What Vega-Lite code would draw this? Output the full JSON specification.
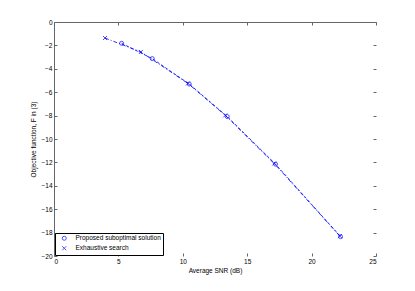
{
  "$schema": "https://vega.github.io/schema/vega-lite/v6.json",
  "autosize": "none",
  "width": 322,
  "height": 234,
  "padding": {"left": 54, "top": 22, "right": 39, "bottom": 35},
  "background": "white",
  "config": {
    "view": {"stroke": null},
    "font": "Liberation Sans",
    "axis": {"labelFont": "Liberation Sans", "titleFont": "Liberation Sans", "labelFontSize": 6.5, "titleFontSize": 6.5, "titleFontWeight": "normal", "labelColor": "#000", "titleColor": "#000", "domainColor": "#666", "tickColor": "#666", "grid": false}
  },
  "data": {"values": [
    {"snr": 5.25, "F": -1.82, "series": "Proposed suboptimal solution"},
    {"snr": 7.63, "F": -3.13, "series": "Proposed suboptimal solution"},
    {"snr": 10.5, "F": -5.3, "series": "Proposed suboptimal solution"},
    {"snr": 13.45, "F": -8.08, "series": "Proposed suboptimal solution"},
    {"snr": 17.2, "F": -12.15, "series": "Proposed suboptimal solution"},
    {"snr": 22.25, "F": -18.35, "series": "Proposed suboptimal solution"},
    {"snr": 3.96, "F": -1.37, "series": "Exhaustive search"},
    {"snr": 6.75, "F": -2.56, "series": "Exhaustive search"},
    {"snr": 10.4, "F": -5.25, "series": "Exhaustive search"},
    {"snr": 13.3, "F": -7.98, "series": "Exhaustive search"},
    {"snr": 17.1, "F": -12.1, "series": "Exhaustive search"},
    {"snr": 22.2, "F": -18.3, "series": "Exhaustive search"}
  ]},
  "resolve": {"axis": {"x": "independent", "y": "independent"}},
  "layer": [
    {
      "encoding": {
        "x": {"field": "snr", "type": "quantitative", "scale": {"domain": [0, 25], "nice": false},
          "axis": {"title": "Average SNR (dB)", "values": [0, 5, 10, 15, 20, 25], "domain": false, "tickSize": -3, "labelPadding": 5, "titlePadding": 3}},
        "y": {"field": "F", "type": "quantitative", "scale": {"domain": [-20, 0], "nice": false},
          "axis": {"title": "Objective function, F in (3)", "values": [0, -2, -4, -6, -8, -10, -12, -14, -16, -18, -20], "tickSize": -3, "labelPadding": 5, "titlePadding": 4}}
      },
      "layer": [
        {
          "transform": [{"filter": "datum.series === 'Proposed suboptimal solution'"}],
          "mark": {"type": "line", "color": "blue", "strokeWidth": 0.8, "strokeDash": [3, 2]},
          "encoding": {}
        },
        {
          "transform": [{"filter": "datum.series === 'Exhaustive search'"}],
          "mark": {"type": "line", "color": "blue", "strokeWidth": 0.8, "strokeDash": [4, 2, 1, 2]},
          "encoding": {}
        },
        {
          "mark": {"type": "point", "color": "blue", "filled": false, "size": 16, "strokeWidth": 1},
          "encoding": {
            "shape": {"field": "series", "type": "nominal", "sort": ["Proposed suboptimal solution", "Exhaustive search"],
              "scale": {"domain": ["Proposed suboptimal solution", "Exhaustive search"], "range": ["circle", "M-1,-1L1,1M-1,1L1,-1"]},
              "legend": {"title": null, "orient": "bottom-left", "offset": 1, "strokeColor": "#000", "fillColor": "white", "padding": 2, "labelFontSize": 6.5, "labelFont": "Liberation Sans", "labelColor": "#000", "symbolSize": 16, "symbolStrokeColor": "blue", "symbolFillColor": "transparent", "symbolStrokeWidth": 1, "symbolOffset": 4, "labelOffset": 8, "rowPadding": 1, "labelLimit": 200}}
          }
        }
      ]
    },
    {
      "mark": {"type": "point", "opacity": 0},
      "encoding": {
        "x": {"field": "snr", "type": "quantitative", "axis": {"orient": "top", "title": null, "labels": false, "values": [0, 5, 10, 15, 20, 25], "tickSize": -3}},
        "y": {"field": "F", "type": "quantitative", "axis": {"orient": "right", "title": null, "labels": false, "domain": false, "values": [0, -2, -4, -6, -8, -10, -12, -14, -16, -18, -20], "tickSize": -3}}
      }
    }
  ]
}
